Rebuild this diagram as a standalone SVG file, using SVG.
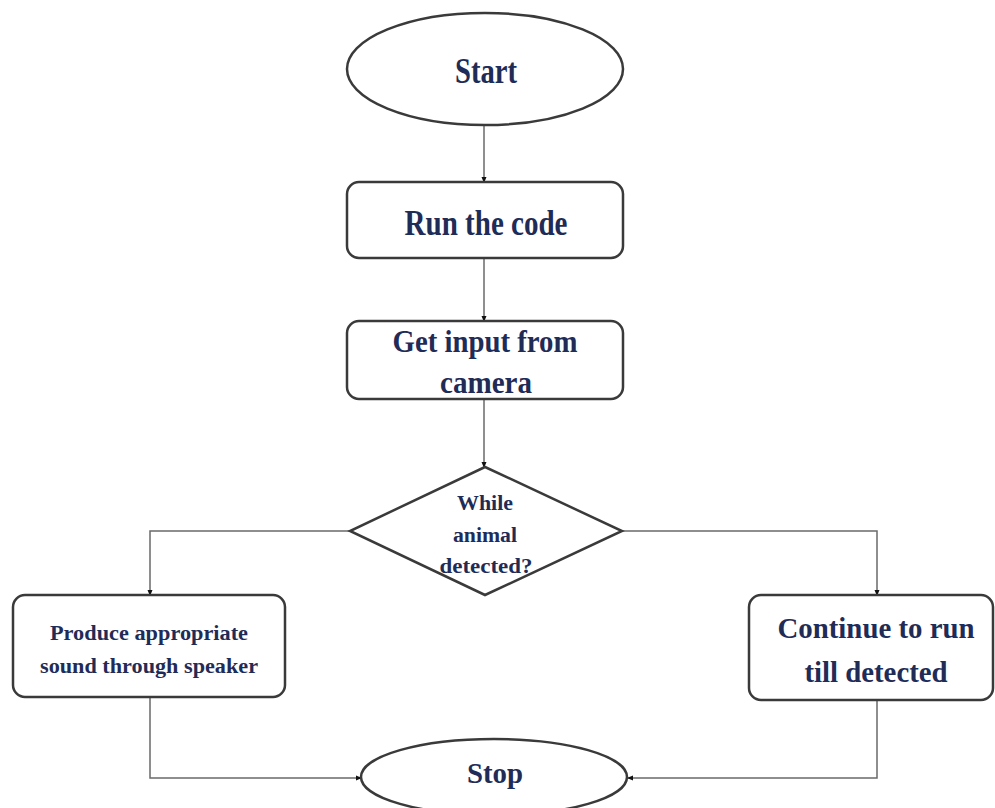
<svg xmlns="http://www.w3.org/2000/svg" width="995" height="808" viewBox="0 0 995 808">
<style>
.shape{fill:#ffffff;stroke:#3a3a3a;stroke-width:2.5}
.lbl{font-family:"Liberation Serif","Times New Roman",serif;font-weight:bold;fill:#1f2c57;text-anchor:middle}
.conn{fill:none;stroke:#6a6a6a;stroke-width:1.5}
</style>
<defs>
<marker id="dot" viewBox="0 0 6 6" refX="5" refY="3" markerWidth="6" markerHeight="6" markerUnits="userSpaceOnUse" orient="auto">
<path d="M0,0.5 L6,3 L0,5.5 Z" fill="#111"/>
</marker>
</defs>
<rect width="995" height="808" fill="#ffffff"/>
<g id="connectors">
<path class="conn" d="M484,125 L484,182" marker-end="url(#dot)"/>
<path class="conn" d="M484,258 L484,321" marker-end="url(#dot)"/>
<path class="conn" d="M484,399 L484,467" marker-end="url(#dot)"/>
<path class="conn" d="M350,531 L150,531 L150,595" marker-end="url(#dot)"/>
<path class="conn" d="M622,531 L877,531 L877,595" marker-end="url(#dot)"/>
<path class="conn" d="M150,697 L150,778 L361,778" marker-end="url(#dot)"/>
<path class="conn" d="M877,700 L877,778 L628,778" marker-end="url(#dot)"/>
</g>
<g id="start">
<ellipse class="shape" cx="485" cy="69" rx="138" ry="56"/>
<text class="lbl" x="486" y="83" font-size="36" textLength="62" lengthAdjust="spacingAndGlyphs">Start</text>
</g>
<g id="run">
<rect class="shape" x="347" y="182" width="276" height="76" rx="12"/>
<text class="lbl" x="486" y="235" font-size="36" textLength="163" lengthAdjust="spacingAndGlyphs">Run the code</text>
</g>
<g id="input">
<rect class="shape" x="347" y="321" width="276" height="78" rx="12"/>
<text class="lbl" x="485" y="352" font-size="31" textLength="185" lengthAdjust="spacingAndGlyphs">Get input from</text>
<text class="lbl" x="486" y="393" font-size="31" textLength="92" lengthAdjust="spacingAndGlyphs">camera</text>
</g>
<g id="decision">
<polygon class="shape" points="485,467 622,531 485,595 350,531"/>
<text class="lbl" x="485" y="510" font-size="20" textLength="56" lengthAdjust="spacingAndGlyphs">While</text>
<text class="lbl" x="485" y="542" font-size="20" textLength="64" lengthAdjust="spacingAndGlyphs">animal</text>
<text class="lbl" x="486" y="573" font-size="20" textLength="93" lengthAdjust="spacingAndGlyphs">detected?</text>
</g>
<g id="produce">
<rect class="shape" x="13" y="595" width="272" height="102" rx="12"/>
<text class="lbl" x="149" y="640" font-size="20" textLength="198" lengthAdjust="spacingAndGlyphs">Produce appropriate</text>
<text class="lbl" x="149" y="673" font-size="20" textLength="218" lengthAdjust="spacingAndGlyphs">sound through speaker</text>
</g>
<g id="continue">
<rect class="shape" x="749" y="595" width="244" height="105" rx="12"/>
<text class="lbl" x="876" y="638" font-size="30" textLength="197" lengthAdjust="spacingAndGlyphs">Continue to run</text>
<text class="lbl" x="876" y="682" font-size="30" textLength="143" lengthAdjust="spacingAndGlyphs">till detected</text>
</g>
<g id="stop">
<ellipse class="shape" cx="494" cy="777" rx="133" ry="38"/>
<text class="lbl" x="495" y="783" font-size="30" textLength="56" lengthAdjust="spacingAndGlyphs">Stop</text>
</g>
</svg>
